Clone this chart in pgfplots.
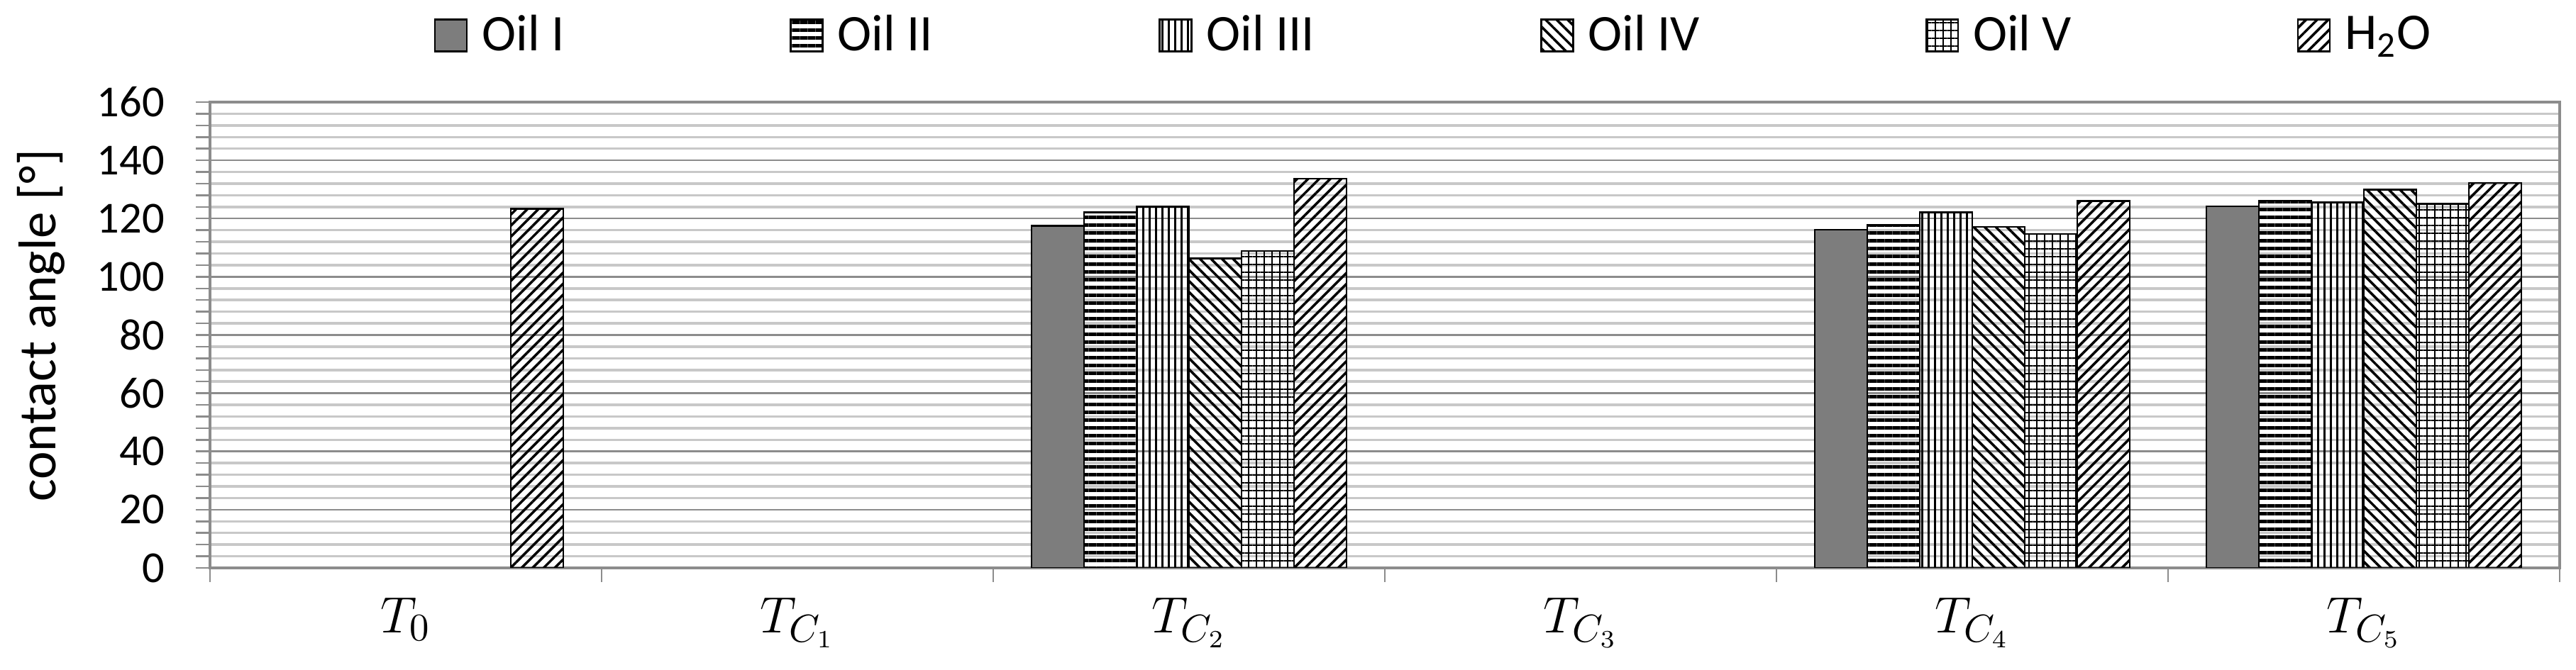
\documentclass[border=0pt]{standalone}
\usepackage{fontspec}
\setmainfont{Carlito}
\usepackage{pgfplots}
\pgfplotsset{compat=1.18}
\usetikzlibrary{patterns.meta}
\definecolor{gridmaj}{RGB}{140,140,140}
\definecolor{gridmin}{RGB}{200,200,200}
\definecolor{oilone}{RGB}{125,125,125}
\begin{document}
\begin{tikzpicture}
\begin{axis}[
  scale only axis, width=662.4pt, height=131.4pt,
  ybar=0pt, bar width=0.134,
  xmin=-0.5, xmax=5.5, ymin=0, ymax=160,
  ytick={0,20,...,160}, minor y tick num=4,
  xtick={-0.5,0.5,...,5.5}, xticklabels={},
  extra x ticks={0,1,2,3,4,5},
  extra x tick labels={$T_0$,$T_{C_1}$,$T_{C_2}$,$T_{C_3}$,$T_{C_4}$,$T_{C_5}$},
  extra x tick style={major tick length=0pt, grid=none},
  xticklabel style={font=\fontsize{15}{17}\selectfont, anchor=base, yshift=-18.4pt},
  yticklabel style={font=\fontsize{12.5}{14}\selectfont, anchor=east, inner sep=0pt, xshift=-8.6pt},
  /pgf/number format/assume math mode=true,
  tick align=outside, xtick pos=bottom, ytick pos=left,
  major tick length=4pt, minor tick length=4pt,
  tick style={gridmaj, line width=0.5pt},
  ymajorgrids, yminorgrids,
  major grid style={gridmaj, line width=0.5pt},
  minor grid style={gridmin, line width=0.7pt},
  axis line style={gridmaj, line width=0.7pt},
  ylabel={contact angle [°]},
  every axis y label/.style={at={([xshift=-43.4pt]rel axis cs:0,0.52)}, rotate=90, anchor=base, font=\fontsize{15}{17}\selectfont},
  legend columns=6,
  legend style={draw=none, inner sep=0pt, at={(0.0951,1.143)}, anchor=west, font=\fontsize{14.5}{16}\selectfont,
    nodes={inner sep=0pt},
    /tikz/every odd column/.style={column sep=4pt},
    /tikz/every even column/.style={column sep=63.6pt}},
  legend image code/.code={\draw[#1] (0pt,-4.5pt) rectangle (9pt,4.5pt);},
  every axis plot/.append style={draw=black, line width=0.5pt},
]
\addplot[fill=oilone] coordinates {(2,117.5) (4,116.1) (5,124.2)};
\addplot[pattern={Lines[angle=0,distance=2.2pt,line width=1pt]}, pattern color=black] coordinates {(2,122.1) (4,117.7) (5,126.1)};
\addplot[pattern={Lines[angle=90,distance=1.8pt,line width=0.6pt]}, pattern color=black] coordinates {(2,124.1) (4,122.1) (5,125.5)};
\addplot[pattern={Lines[angle=-45,distance=2.2pt,line width=0.7pt]}, pattern color=black] coordinates {(2,106.3) (4,117.1) (5,129.9)};
\addplot[pattern={Hatch[angle=0,distance=2.2pt,line width=0.45pt]}, pattern color=black] coordinates {(2,108.9) (4,114.7) (5,125.0)};
\addplot[pattern={Lines[angle=45,distance=2.2pt,line width=0.7pt]}, pattern color=black] coordinates {(0,123.4) (2,133.7) (4,126.0) (5,132.2)};
\legend{Oil I,Oil II,Oil III,Oil IV,Oil V,H\textsubscript{2}O}
\coordinate (ll) at (rel axis cs:0,0);
\coordinate (ur) at (rel axis cs:1,1);
\end{axis}
\pgfresetboundingbox
\path ([xshift=-59.2pt,yshift=-28.8pt]ll) rectangle ([xshift=4.6pt,yshift=28.8pt]ur);
\end{tikzpicture}
\end{document}
